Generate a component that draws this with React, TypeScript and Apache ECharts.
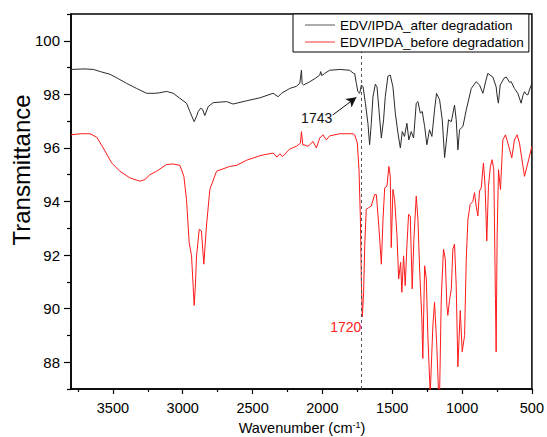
import React, { useEffect, useRef } from "react";
import * as echarts from "echarts";

const FONT = "'Liberation Sans', Arial, Helvetica, sans-serif";

const afterName = "EDV/IPDA_after degradation";
const beforeName = "EDV/IPDA_before degradation";

const xMajorTicks = [500, 1000, 1500, 2000, 2500, 3000, 3500];
const xMinorTicks = [750, 1250, 1750, 2250, 2750, 3250, 3750];
const yMajorTicks = [88, 90, 92, 94, 96, 98, 100];
const yMinorTicks = [87, 89, 91, 93, 95, 97, 99, 101];

const afterWn = [
  3800, 3700, 3640, 3590, 3521, 3460, 3402, 3330, 3259, 3200, 3164, 3116, 3068, 3020, 2973, 2949,
  2918, 2900, 2889, 2872, 2858, 2842, 2818, 2782, 2686, 2639, 2543, 2448, 2353, 2317, 2293, 2234,
  2186, 2162, 2150, 2145, 2134, 2091, 2050, 2019, 2012, 2005, 1984, 1948, 1876, 1805, 1776, 1769,
  1757, 1746, 1733, 1721, 1709, 1692, 1674, 1662, 1650, 1638, 1621, 1609, 1595, 1578, 1562, 1550,
  1531, 1514, 1495, 1478, 1459, 1442, 1428, 1412, 1395, 1381, 1364, 1347, 1328, 1316, 1299, 1285,
  1268, 1252, 1233, 1216, 1197, 1183, 1161, 1142, 1125, 1109, 1097, 1077, 1054, 1042, 1030, 1018,
  994, 970, 934, 899, 875, 851, 830, 816, 780, 756, 748, 740, 727, 720, 700, 684,
  660, 648, 625, 601, 577, 565, 553, 540, 529, 515, 500,
];
const afterT = [
  98.93, 98.95, 98.93, 98.85, 98.75, 98.58, 98.41, 98.22, 98.04, 98.04, 98.06, 98.11, 98.04, 97.85, 97.67, 97.36,
  96.98, 97.2, 97.36, 97.48, 97.44, 97.21, 97.54, 97.69, 97.73, 97.64, 97.76, 97.87, 98.04, 97.91, 98.04, 98.22,
  98.3, 98.41, 98.9, 98.4, 98.35, 98.47, 98.6, 98.72, 98.85, 98.7, 98.78, 98.9, 98.93, 98.9, 98.78, 98.78,
  98.41, 98.1, 98.04, 98.35, 98.28, 97.67, 96.92, 96.12, 96.92, 97.91, 98.38, 98.28, 97.42, 96.37, 97.05, 97.91,
  98.68, 98.72, 98.28, 97.3, 96.55, 96.0, 96.61, 96.43, 96.92, 96.3, 96.61, 96.37, 97.67, 97.73, 97.3, 97.36,
  96.8, 96.12, 96.68, 96.43, 97.42, 98.04, 97.8, 97.05, 95.64, 96.43, 97.05, 96.98, 97.6, 97.05, 95.93, 96.68,
  96.8, 97.42, 98.22, 98.47, 98.35, 98.04, 98.5, 98.78, 98.65, 98.28, 97.9, 97.67, 98.35, 98.41, 98.6, 98.65,
  98.45, 98.47, 98.22, 98.04, 97.67, 97.95, 98.1, 98.0, 97.98, 98.2, 98.41,
];

const beforeWn = [
  3800, 3730, 3664, 3616, 3569, 3509, 3450, 3378, 3307, 3271, 3235, 3187, 3116, 3068, 3020, 2992,
  2973, 2954, 2937, 2925, 2918, 2910, 2901, 2882, 2866, 2849, 2830, 2806, 2758, 2663, 2615, 2543,
  2448, 2353, 2325, 2305, 2286, 2234, 2186, 2157, 2150, 2140, 2134, 2103, 2067, 2043, 2019, 1996,
  1972, 1948, 1876, 1781, 1769, 1757, 1750, 1738, 1728, 1721, 1714, 1705, 1697, 1686, 1669, 1650,
  1626, 1614, 1597, 1578, 1566, 1554, 1538, 1524, 1514, 1507, 1495, 1483, 1466, 1454, 1440, 1431,
  1419, 1407, 1395, 1383, 1371, 1357, 1345, 1328, 1316, 1304, 1288, 1281, 1268, 1256, 1245, 1228,
  1209, 1197, 1181, 1168, 1161, 1149, 1133, 1120, 1109, 1102, 1090, 1077, 1066, 1054, 1042, 1030,
  1013, 999, 982, 970, 958, 942, 923, 911, 899, 887, 875, 863, 847, 835, 823, 811,
  797, 785, 773, 761, 756, 749, 739, 725, 708, 689, 672, 644, 625, 606, 589, 553,
  529, 500,
];
const beforeT = [
  96.49, 96.53, 96.53, 96.4, 96.0, 95.44, 95.13, 94.88, 94.76, 94.82, 95.0, 95.13, 95.38, 95.4, 95.35, 94.94,
  94.08, 92.47, 91.97, 90.8, 90.12, 90.8, 91.97, 92.96, 92.9, 91.66, 93.09, 94.45, 95.13, 95.31, 95.35, 95.54,
  95.71, 95.81, 95.66, 95.78, 95.68, 95.96, 96.06, 96.18, 96.61, 96.1, 96.12, 96.06, 96.24, 96.0, 96.37, 96.49,
  96.3, 96.45, 96.53, 96.53, 96.49, 96.3, 96.18, 95.19, 93.34, 90.99, 89.69, 90.61, 92.34, 93.71, 93.77, 93.83,
  94.26, 94.26, 93.15, 91.66, 93.34, 94.51, 94.57, 95.31, 94.94, 92.28, 94.45, 94.08, 92.72, 91.11, 91.73, 90.61,
  91.97, 90.86, 92.34, 93.52, 93.46, 90.74, 92.59, 94.2, 93.34, 91.48, 89.62, 88.14, 91.6, 91.11, 89.0, 86.8,
  89.37, 90.24, 88.63, 86.8, 86.8, 90.37, 92.22, 91.85, 90.12, 89.75, 90.3, 90.74, 92.22, 92.41, 90.86, 87.83,
  89.93, 88.39, 89.0, 91.85, 93.34, 93.89, 94.0, 94.33, 93.83, 93.46, 94.39, 94.51, 95.44, 94.57, 92.53, 94.57,
  95.31, 95.56, 95.19, 90.37, 88.39, 92.72, 95.19, 94.45, 96.3, 96.49, 96.18, 95.63, 96.3, 96.49, 96.18, 94.94,
  95.44, 96.06,
];

const markedPeak = 1720;
const label1743 = { text: "1743", wn: 2041, t: 97.12 };
const arrowFrom = [1926, 97.23];
const arrowTo = [1757, 97.89];
const label1720 = { text: "1720", wn: 1833, t: 89.33 };

export default function App() {
  const ref = useRef<HTMLDivElement>(null);

  useEffect(() => {
    if (!ref.current) return;
    const chart = echarts.init(ref.current, null, { renderer: "svg" });
    const afterData = afterWn.map((w, i) => [w, afterT[i]]);
    const beforeData = beforeWn.map((w, i) => [w, beforeT[i]]);
    const plain = (v: number) => String(v);

    const option: any = {
      animation: false,
      backgroundColor: "#fff",
      textStyle: { fontFamily: FONT },
      grid: {
        left: 71,
        right: 14,
        top: 14,
        bottom: 48,
        show: true,
        borderColor: "#000",
        borderWidth: 1.5,
        backgroundColor: "transparent",
      },
      legend: {
        show: true,
        orient: "vertical",
        left: 293,
        top: 14,
        padding: [3, 5, 2, 12],
        itemGap: 1,
        itemWidth: 30,
        itemHeight: 1.2,
        icon: "rect",
        backgroundColor: "#fff",
        borderColor: "#000",
        borderWidth: 1,
        z: 10,
        textStyle: { fontSize: 13.5, color: "#000", fontFamily: FONT, lineHeight: 16 },
        data: [
          { name: afterName, icon: "rect", itemStyle: { color: "#777" } },
          { name: beforeName, icon: "rect", itemStyle: { color: "#ff5555" } },
        ],
      },
      xAxis: [
        {
          type: "value",
          min: 500,
          max: 3800,
          inverse: true,
          position: "bottom",
          axisLine: { show: true, lineStyle: { color: "#000", width: 1.5 } },
          axisTick: { show: true, customValues: xMajorTicks, length: 5, lineStyle: { color: "#000", width: 1.2 } },
          axisLabel: {
            customValues: xMajorTicks,
            formatter: plain,
            margin: 11,
            fontSize: 14.5,
            color: "#000",
            fontFamily: FONT,
          },
          splitLine: { show: false },
        },
        {
          type: "value",
          min: 500,
          max: 3800,
          inverse: true,
          position: "bottom",
          axisLine: { show: false },
          axisTick: { show: true, customValues: xMinorTicks, length: 3, lineStyle: { color: "#000", width: 1.2 } },
          axisLabel: { show: false },
          splitLine: { show: false },
        },
      ],
      yAxis: [
        {
          type: "value",
          min: 87,
          max: 101,
          position: "left",
          axisLine: { show: true, lineStyle: { color: "#000", width: 1.5 } },
          axisTick: { show: true, customValues: yMajorTicks, length: 7, lineStyle: { color: "#000", width: 1.2 } },
          axisLabel: {
            customValues: yMajorTicks,
            formatter: plain,
            margin: 11,
            fontSize: 15,
            color: "#000",
            fontFamily: FONT,
          },
          splitLine: { show: false },
        },
        {
          type: "value",
          min: 87,
          max: 101,
          position: "left",
          axisLine: { show: false },
          axisTick: { show: true, customValues: yMinorTicks, length: 4, lineStyle: { color: "#000", width: 1.2 } },
          axisLabel: { show: false },
          splitLine: { show: false },
        },
      ],
      series: [
        {
          name: afterName,
          type: "line",
          data: afterData,
          symbol: "none",
          showSymbol: false,
          color: "#2a2a2a",
          lineStyle: { color: "#2a2a2a", width: 1 },
          z: 3,
          markLine: {
            silent: true,
            symbol: ["none", "none"],
            label: { show: false },
            lineStyle: { color: "#555", type: [3, 3], width: 1 },
            data: [{ xAxis: markedPeak }],
          },
          markPoint: {
            silent: true,
            symbol: "circle",
            symbolSize: 1,
            itemStyle: { color: "transparent" },
            label: { show: true, position: "inside", color: "#111", fontSize: 14, fontFamily: FONT },
            data: [{ coord: [label1743.wn, label1743.t], label: { formatter: label1743.text } }],
          },
        },
        {
          name: beforeName,
          type: "line",
          data: beforeData,
          symbol: "none",
          showSymbol: false,
          color: "#ff1a1a",
          lineStyle: { color: "#ff1a1a", width: 1 },
          z: 2,
          markLine: {
            silent: true,
            symbol: ["none", "arrow"],
            symbolSize: [8, 10],
            label: { show: false },
            lineStyle: { color: "#111", type: "solid", width: 1 },
            data: [[{ coord: arrowFrom }, { coord: arrowTo }]],
          },
          markPoint: {
            silent: true,
            symbol: "circle",
            symbolSize: 1,
            itemStyle: { color: "transparent" },
            label: { show: true, position: "inside", color: "#ff2020", fontSize: 14, fontFamily: FONT },
            data: [{ coord: [label1720.wn, label1720.t], label: { formatter: label1720.text } }],
          },
        },
      ],
      graphic: [
        {
          type: "text",
          x: 21,
          y: 170,
          rotation: Math.PI / 2,
          style: {
            text: "Transmittance",
            fontSize: 24,
            fontFamily: FONT,
            fill: "#000",
            textAlign: "center",
            textVerticalAlign: "middle",
          },
        },
        {
          type: "text",
          x: 302,
          y: 428,
          style: {
            text: "Wavenumber (cm{sup|-1})",
            fontSize: 14.5,
            fontFamily: FONT,
            fill: "#000",
            textAlign: "center",
            textVerticalAlign: "middle",
            rich: {
              sup: { fontSize: 9, verticalAlign: "top", padding: [0, 0, 6, 0], fontFamily: FONT, fill: "#000" },
            },
          },
        },
      ],
    };
    chart.setOption(option);
    return () => chart.dispose();
  }, []);

  return (
    <div
      ref={ref}
      style={{ position: "fixed", left: 0, top: 0, width: 547, height: 437, background: "#fff" }}
    />
  );
}
